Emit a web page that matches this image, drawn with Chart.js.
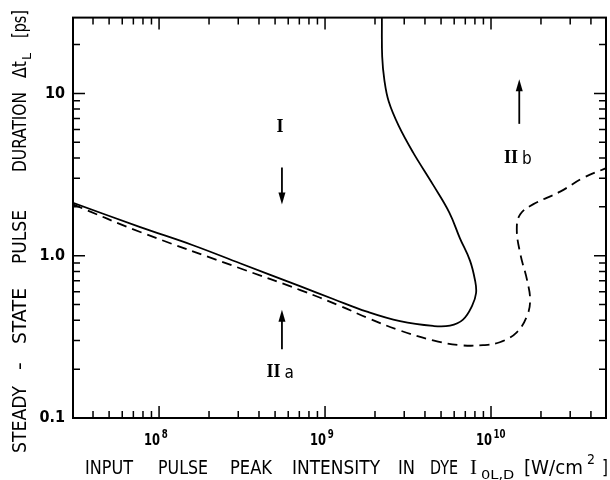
<!DOCTYPE html>
<html>
<head>
<meta charset="utf-8">
<script src="https://cdn.jsdelivr.net/npm/chart.js@4"></script>
<style>
  body { margin: 0; background: #fff; }
  #wrap { width: 610px; height: 480px; }
</style>
</head>
<body>
<div id="wrap"><canvas id="pulseChart"></canvas></div>
<script>
// Solid curve: input intensity [W/cm2] -> pulse duration [ps]
const solidIntensity = [3.03e7, 7.7e7, 1.6e8, 3.1e8, 7.06e8, 1.12e9, 1.79e9, 2.83e9, 4.48e9, 5.66e9,
    6.78e9, 7.69e9, 8.13e9, 8.01e9, 7.47e9, 6.5e9, 5.6e9, 4.48e9, 3.39e9, 2.78e9,
    2.42e9, 2.28e9, 2.21e9, 2.2e9];
const solidDuration = [2.12, 1.50, 1.16, 0.895, 0.649, 0.541, 0.452, 0.395, 0.369, 0.371,
    0.404, 0.491, 0.589, 0.706, 0.933, 1.28, 1.85, 2.73, 4.33, 6.3,
    8.9, 12.0, 16.8, 29.3];

// Dashed curve
const dashIntensity = [3.03e7, 7.7e7, 3.1e8, 7.1e8, 1.23e9, 1.79e9, 2.83e9, 4.48e9, 6.5e9, 8.95e9,
    1.13e10, 1.43e10, 1.65e10, 1.72e10, 1.65e10, 1.5e10, 1.43e10, 1.5e10, 1.79e10, 2.61e10,
    3.58e10, 4.93e10];
const dashDuration = [2.07, 1.40, 0.834, 0.614, 0.491, 0.415, 0.346, 0.301, 0.281, 0.281,
    0.293, 0.337, 0.427, 0.533, 0.706, 1.03, 1.46, 1.80, 2.07, 2.48,
    3.01, 3.46];

// Axis ranges and tick labels
const xMin = 3.03e7, xMax = 4.93e10;
const yMin = 0.1, yMax = 29.3;
const xTickValues = [1e8, 1e9, 1e10];
const xTickLabels = ['10^8', '10^9', '10^10'];
const yTickValues = [0.1, 1, 10];
const yTickLabels = ['0.1', '1.0', '10'];

// Region labels and arrows, in data coordinates
const regionNames = ['I', 'II a', 'II b'];
const regionNameX = [5.36e8, 5.36e8, 1.45e10];
const regionNameY = [6.14, 0.19, 3.98];
const arrowX = [5.5e8, 5.5e8, 1.48e10];
const arrowFrom = [3.5, 0.265, 6.49];
const arrowTo = [2.07, 0.464, 12.2];

const textFont = '"DejaVu Sans Condensed", "DejaVu Sans", sans-serif';
const serifFont = '"Liberation Serif", "DejaVu Serif", serif';

function toPoints(xs, ys) {
    return xs.map((x, i) => ({ x: x, y: ys[i] }));
}

// squeeze/stretch a text so that it spans x0..x1
function fitText(ctx, text, x0, x1, base) {
    const w = ctx.measureText(text).width;
    let sx = (x1 - x0) / w;
    sx = Math.max(0.75, Math.min(1.25, sx));
    ctx.save();
    ctx.translate(x0, base);
    ctx.scale(sx, 1);
    ctx.textAlign = 'left';
    ctx.fillText(text, 0, 0);
    ctx.restore();
}

function drawLogTicks(ctx, scale, area, horizontal) {
    const lo = Math.floor(Math.log10(scale.min));
    const hi = Math.ceil(Math.log10(scale.max));
    for (let e = lo; e <= hi; e++) {
        for (let m = 1; m <= 9; m++) {
            const v = m * Math.pow(10, e);
            if (v < scale.min || v > scale.max) continue;
            const p = scale.getPixelForValue(v);
            const len = m === 1 ? 12 : 7;
            ctx.beginPath();
            if (horizontal) {
                if (p < area.left + 3 || p > area.right - 3) continue;
                ctx.moveTo(p, area.bottom); ctx.lineTo(p, area.bottom - len);
                ctx.moveTo(p, area.top); ctx.lineTo(p, area.top + len);
            } else {
                if (p < area.top + 3 || p > area.bottom - 3) continue;
                ctx.moveTo(area.left, p); ctx.lineTo(area.left + len, p);
                ctx.moveTo(area.right, p); ctx.lineTo(area.right - len, p);
            }
            ctx.stroke();
        }
    }
}

const decorPlugin = {
    id: 'decor',
    afterDatasetsDraw(chart) {
        const ctx = chart.ctx;
        const a = chart.chartArea;
        const xs = chart.scales.x, ys = chart.scales.y;
        ctx.save();
        ctx.strokeStyle = '#000';
        ctx.fillStyle = '#000';

        // frame and inward ticks
        ctx.lineWidth = 2;
        ctx.strokeRect(a.left, a.top, a.right - a.left, a.bottom - a.top);
        ctx.lineWidth = 1.5;
        drawLogTicks(ctx, xs, a, true);
        drawLogTicks(ctx, ys, a, false);

        // x tick labels as 10 with raised exponent
        ctx.textBaseline = 'alphabetic';
        xTickValues.forEach((v, i) => {
            const parts = xTickLabels[i].split('^');
            const px = xs.getPixelForValue(v);
            ctx.save();
            ctx.translate(px + 1, 445);
            ctx.scale(0.8, 1);
            ctx.font = 'bold 16px ' + textFont;
            ctx.textAlign = 'right';
            ctx.fillText(parts[0], 0, 0);
            ctx.font = 'bold 12px ' + textFont;
            ctx.textAlign = 'left';
            ctx.fillText(parts[1], 2, -7);
            ctx.restore();
        });

        // arrows
        ctx.lineWidth = 1.8;
        arrowX.forEach((ax, i) => {
            const px = xs.getPixelForValue(ax);
            const p0 = ys.getPixelForValue(arrowFrom[i]);
            const p1 = ys.getPixelForValue(arrowTo[i]);
            const dir = Math.sign(p1 - p0);
            ctx.beginPath();
            ctx.moveTo(px, p0);
            ctx.lineTo(px, p1 - dir * 8);
            ctx.stroke();
            ctx.beginPath();
            ctx.moveTo(px, p1);
            ctx.lineTo(px - 3.5, p1 - dir * 12);
            ctx.lineTo(px + 3.5, p1 - dir * 12);
            ctx.closePath();
            ctx.fill();
        });

        // region names: roman numeral in serif, letter in sans
        ctx.textBaseline = 'middle';
        regionNames.forEach((name, i) => {
            const parts = name.split(' ');
            const px = xs.getPixelForValue(regionNameX[i]);
            const py = ys.getPixelForValue(regionNameY[i]);
            ctx.font = 'bold 18px ' + serifFont;
            const romanW = ctx.measureText(parts[0]).width;
            let letterW = 0;
            if (parts[1]) {
                ctx.font = '17px ' + textFont;
                letterW = ctx.measureText(parts[1]).width + 4;
            }
            const left = px - (romanW + letterW) / 2;
            ctx.textAlign = 'left';
            ctx.font = 'bold 18px ' + serifFont;
            ctx.fillText(parts[0], left, py);
            if (parts[1]) {
                ctx.font = '17px ' + textFont;
                ctx.fillText(parts[1], left + romanW + 4, py + 1);
            }
        });
        ctx.restore();
    },
    afterDraw(chart) {
        const ctx = chart.ctx;
        ctx.save();
        ctx.fillStyle = '#000';
        ctx.textBaseline = 'alphabetic';

        // x axis title
        ctx.font = '20px ' + textFont;
        const base = 474;
        fitText(ctx, 'INPUT', 85, 133, base);
        fitText(ctx, 'PULSE', 158, 208, base);
        fitText(ctx, 'PEAK', 230, 272, base);
        fitText(ctx, 'INTENSITY', 292, 380, base);
        fitText(ctx, 'IN', 398, 415, base);
        fitText(ctx, 'DYE', 430, 458, base);
        ctx.font = '20px ' + serifFont;
        fitText(ctx, 'I', 470, 477, base);
        ctx.font = '13px ' + textFont;
        fitText(ctx, '0L,D', 481, 519, base + 5);
        ctx.font = '20px ' + textFont;
        fitText(ctx, '[W/cm', 524, 583, base);
        ctx.font = '14px ' + textFont;
        fitText(ctx, '2', 587, 595, base - 10);
        ctx.font = '20px ' + textFont;
        fitText(ctx, ']', 602, 608, base);

        // y axis title, reading upwards
        ctx.translate(26, 0);
        ctx.rotate(-Math.PI / 2);
        ctx.font = '19px ' + textFont;
        fitText(ctx, 'STEADY', -453, -386, 0);
        fitText(ctx, '-', -370, -362, 0);
        fitText(ctx, 'STATE', -344, -288, 0);
        fitText(ctx, 'PULSE', -264, -210, 0);
        fitText(ctx, 'DURATION', -172, -92, 0);
        fitText(ctx, 'Δt', -78, -61, 0);
        ctx.font = '13px ' + textFont;
        fitText(ctx, 'L', -60, -53, 5);
        ctx.font = '19px ' + textFont;
        fitText(ctx, '[ps]', -38, -10, 0);
        ctx.restore();
    }
};

const ctx = document.getElementById('pulseChart').getContext('2d');
new Chart(ctx, {
    type: 'scatter',
    data: {
        datasets: [{
            label: 'solid',
            data: toPoints(solidIntensity, solidDuration),
            showLine: true,
            borderColor: '#000',
            borderWidth: 1.8,
            pointRadius: 0,
            tension: 0.4
        }, {
            label: 'dashed',
            data: toPoints(dashIntensity, dashDuration),
            showLine: true,
            borderColor: '#000',
            borderWidth: 1.8,
            borderDash: [10, 6],
            pointRadius: 0,
            tension: 0.4
        }]
    },
    options: {
        responsive: true,
        maintainAspectRatio: false,
        animation: false,
        layout: { padding: { top: 10, right: 4, left: 0, bottom: 0 } },
        plugins: { legend: { display: false }, tooltip: { enabled: false } },
        scales: {
            x: {
                type: 'logarithmic',
                min: xMin,
                max: xMax,
                grid: { display: false, drawTicks: false },
                border: { display: false },
                afterBuildTicks: s => { s.ticks = xTickValues.map(v => ({ value: v })); },
                afterFit: s => { s.height = 62; },
                ticks: { display: false }
            },
            y: {
                type: 'logarithmic',
                min: yMin,
                max: yMax,
                grid: { display: false, drawTicks: false },
                border: { display: false },
                afterBuildTicks: s => { s.ticks = yTickValues.map(v => ({ value: v })); },
                afterFit: s => { s.width = 73; },
                ticks: {
                    autoSkip: false,
                    padding: 8,
                    color: '#000',
                    font: { family: textFont, size: 16, weight: 'bold' },
                    callback: (v, i) => yTickLabels[i]
                }
            }
        }
    },
    plugins: [decorPlugin]
});
</script>
</body>
</html>
